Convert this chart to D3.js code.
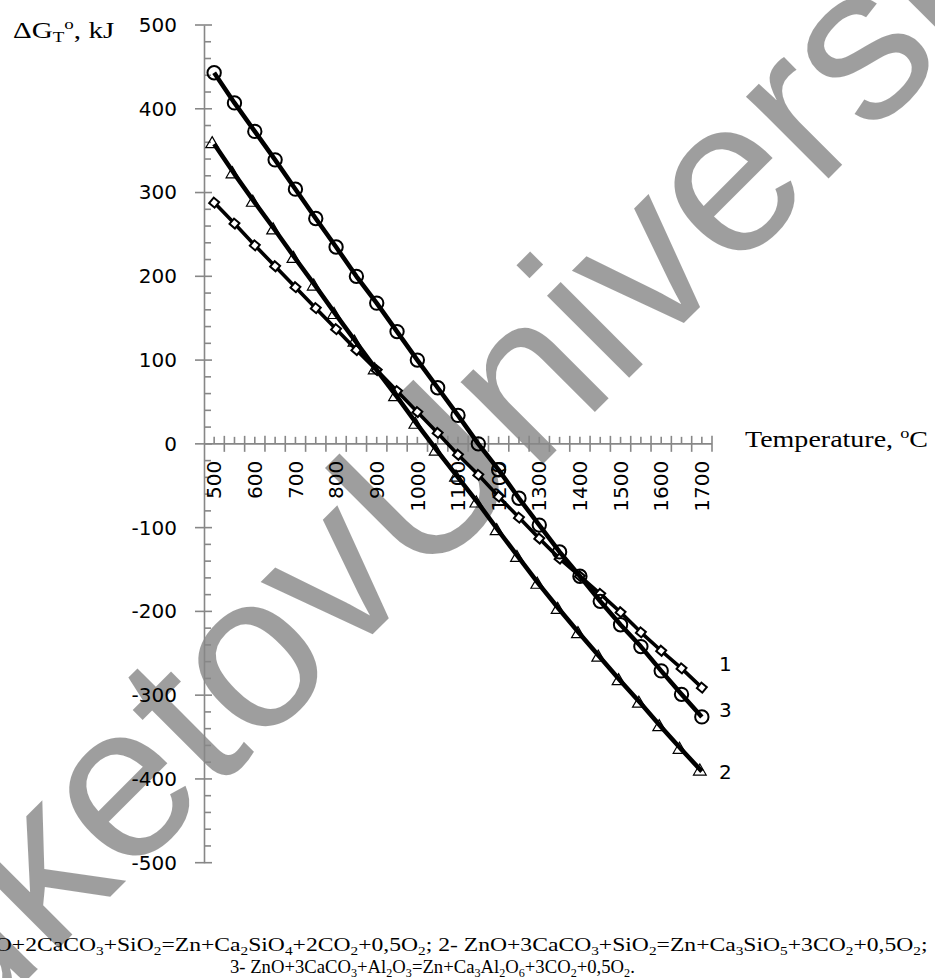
<!DOCTYPE html>
<html>
<head>
<meta charset="utf-8">
<script src="https://cdn.jsdelivr.net/npm/d3@7"></script>
<style>
  body { margin: 0; background: #fff; }
  svg { display: block; }
</style>
</head>
<body>
<svg id="chart" width="935" height="978"></svg>
<script>

//// DATA

// Temperature, categories every 50 oC
var temps = [500, 550, 600, 650, 700, 750, 800, 850, 900, 950, 1000, 1050, 1100,
             1150, 1200, 1250, 1300, 1350, 1400, 1450, 1500, 1550, 1600, 1650, 1700];

// Series 1: ZnO+2CaCO3+SiO2 (diamonds)
var series1 = [288, 263, 237, 212, 187, 162, 137, 112, 88, 63, 38, 13, -13,
               -37, -63, -88, -113, -137, -158, -179, -201, -225, -247, -268, -291];

// Series 2: ZnO+3CaCO3+SiO2 (triangles)
var series2 = [358, 322, 288, 255, 221, 188, 154, 121, 88, 56, 23, -9, -40,
               -71, -104, -136, -168, -198, -227, -255, -283, -310, -338, -365, -391];

// Series 3: ZnO+3CaCO3+Al2O3 (circles)
var series3 = [443, 407, 373, 339, 304, 269, 235, 200, 168, 134, 100, 67, 34,
               0, -31, -65, -97, -129, -158, -188, -216, -242, -271, -299, -326];

// Tick labels
var xTickLabels = [500, 600, 700, 800, 900, 1000, 1100, 1200, 1300, 1400, 1500, 1600, 1700];
var yTickLabels = [500, 400, 300, 200, 100, 0, -100, -200, -300, -400, -500];

// Curve numbers at the right end, with the value where they sit
var curveNames = ["1", "3", "2"];
var curveNameValues = [-263, -318, -392];

// Caption lines, "_" marks a subscript digit
var captionLines = [
  "1- ZnO+2CaCO_3+SiO_2=Zn+Ca_2SiO_4+2CO_2+0,5O_2; 2- ZnO+3CaCO_3+SiO_2=Zn+Ca_3SiO_5+3CO_2+0,5O_2;",
  "3- ZnO+3CaCO_3+Al_2O_3=Zn+Ca_3Al_2O_6+3CO_2+0,5O_2."
];


//// MAIN

var svg = d3.select("#chart");
var axisColor = "#878787";
var numFont = "'DejaVu Sans', sans-serif";
var serifFont = "'Liberation Serif', 'Times New Roman', serif";

// Category axis: each temperature sits in the middle of a 50 wide band
var x = d3.scaleLinear().domain([475, 1725]).range([204, 712]);
var y = d3.scaleLinear().domain([-500, 500]).range([862.7, 25]);

// watermark goes first, everything is drawn over it
drawWatermark();
drawAxes();
drawSeries();
drawTexts();


//// FUNCTIONS

///////////////////////////////////
// Grey watermark text across the page
function drawWatermark(){
///////////////////////////////////
    var g = svg.append("g")
        .attr("transform", "translate(420,587) rotate(-45)")
        .style("font-family", "'Liberation Sans', Arial, sans-serif")
        .style("font-size", "220px")
        .attr("fill", "#000")
        .attr("fill-opacity", 0.38);
    g.append("text").attr("text-anchor", "end").text("Buketov ");
    g.append("text").attr("text-anchor", "start").text("University");
}

///////////////////////////////////
// Axes with major and minor ticks
function drawAxes(){
///////////////////////////////////
    var x0 = x(475), y0 = y(0);

    // Y axis
    var yAxis = d3.axisLeft(y).tickValues(yTickLabels).tickSize(0).tickPadding(27)
        .tickFormat(function(d){ return String(d); });
    var gy = svg.append("g").attr("transform", "translate(" + x0 + ",0)").call(yAxis);
    gy.select(".domain").attr("stroke", axisColor).attr("stroke-width", 1.6);
    gy.selectAll("text").style("font-family", numFont).style("font-size", "20px").attr("fill", "#000");

    // y major ticks cross the axis, minor ones only on the right
    gy.selectAll(".major").data(yTickLabels).enter().append("line")
        .attr("x1", -9).attr("x2", 8)
        .attr("y1", function(d){ return y(d); }).attr("y2", function(d){ return y(d); })
        .attr("stroke", axisColor).attr("stroke-width", 1.6);
    gy.selectAll(".minor").data(d3.range(-480, 500, 20).filter(function(d){ return d % 100 != 0; }))
        .enter().append("line")
        .attr("x1", 0).attr("x2", 7)
        .attr("y1", function(d){ return y(d); }).attr("y2", function(d){ return y(d); })
        .attr("stroke", axisColor).attr("stroke-width", 1.6);

    // X axis along zero
    var gx = svg.append("g").attr("transform", "translate(0," + y0 + ")");
    gx.append("line").attr("x1", x0).attr("x2", x(1725))
        .attr("stroke", axisColor).attr("stroke-width", 1.6);
    // major ticks on the band boundaries
    gx.selectAll(".major").data(d3.range(525, 1750, 50)).enter().append("line")
        .attr("x1", function(d){ return x(d); }).attr("x2", function(d){ return x(d); })
        .attr("y1", -8).attr("y2", 8)
        .attr("stroke", axisColor).attr("stroke-width", 1.6);
    // minor ticks on the band centres
    gx.selectAll(".minor").data(temps).enter().append("line")
        .attr("x1", function(d){ return x(d); }).attr("x2", function(d){ return x(d); })
        .attr("y1", -7).attr("y2", 0)
        .attr("stroke", axisColor).attr("stroke-width", 1.6);

    // rotated labels below the axis
    gx.selectAll(".lbl").data(xTickLabels).enter().append("text")
        .attr("transform", function(d){ return "translate(" + x(d) + ",17) rotate(-90)"; })
        .attr("text-anchor", "end")
        .attr("dy", "0.36em")
        .style("font-family", numFont).style("font-size", "20px")
        .text(function(d){ return d; });
}

///////////////////////////////////
// Lines and markers of the three curves
function drawSeries(){
///////////////////////////////////
    var line = d3.line()
        .x(function(d, i){ return x(temps[i]); })
        .y(function(d){ return y(d); });

    var defs = [
        {vals: series1, w: 3.6, sym: d3.symbolSquare,   size: 50,  sw: 2,   fill: "#fff", dx: 0, rot: 40},
        {vals: series2, w: 4.5, sym: d3.symbolTriangle, size: 70,  sw: 1.2, fill: "none", dx: -2, rot: 0},
        {vals: series3, w: 4.5, sym: d3.symbolCircle,   size: 140, sw: 2,   fill: "none", dx: 0, rot: 0}
    ];

    defs.forEach(function(s){
        svg.append("path").datum(s.vals)
            .attr("d", line)
            .attr("fill", "none")
            .attr("stroke", "#000")
            .attr("stroke-width", s.w)
            .attr("stroke-linejoin", "round");

        svg.append("g").selectAll("path").data(s.vals).enter().append("path")
            .attr("d", d3.symbol().type(s.sym).size(s.size))
            .attr("transform", function(d, i){
                return "translate(" + (x(temps[i]) + s.dx) + "," + y(d) + ") rotate(" + s.rot + ")";
            })
            .attr("fill", s.fill)
            .attr("stroke", "#000")
            .attr("stroke-width", s.sw);
    });

    // curve numbers
    svg.selectAll(".cname").data(curveNames).enter().append("text")
        .attr("x", 719)
        .attr("y", function(d, i){ return y(curveNameValues[i]); })
        .attr("dy", "0.36em")
        .style("font-family", numFont).style("font-size", "20px")
        .text(function(d){ return d; });
}

///////////////////////////////////
// Fit a text element to a given width (horizontal scale only)
function fitWidth(sel, xAnchor, baseline, width){
///////////////////////////////////
    var w = sel.node().getComputedTextLength();
    var k = width / w;
    sel.attr("x", 0).attr("y", 0)
       .attr("transform", "translate(" + xAnchor + "," + baseline + ") scale(" + k + ",1)");
    return k;
}

///////////////////////////////////
// Writes a chemical formula line with subscripts
function formulaText(parent, str, size){
///////////////////////////////////
    var t = parent.append("text").style("font-family", serifFont).style("font-size", size + "px");
    var parts = str.split("_");
    t.append("tspan").text(parts[0]);
    for (var i = 1; i < parts.length; i++){
        t.append("tspan").attr("dy", size * 0.22).style("font-size", (size * 0.65) + "px").text(parts[i].charAt(0));
        t.append("tspan").attr("dy", -size * 0.22).text(parts[i].substring(1));
    }
    return t;
}

///////////////////////////////////
// Titles and caption
function drawTexts(){
///////////////////////////////////
    // Y title: delta G T o, kJ
    var yt = svg.append("text").style("font-family", serifFont).style("font-size", "23px");
    yt.append("tspan").text("\u0394G");
    yt.append("tspan").attr("dy", 4).style("font-size", "15px").text("T");
    yt.append("tspan").attr("dy", -13).style("font-size", "15px").text("o");
    yt.append("tspan").attr("dy", 9).text(", kJ");
    fitWidth(yt, 13, 38, 100);

    // X title
    var xt = svg.append("text").style("font-family", serifFont).style("font-size", "23px");
    xt.append("tspan").text("Temperature, ");
    xt.append("tspan").attr("dy", -9).style("font-size", "15px").text("o");
    xt.append("tspan").attr("dy", 9).text("C");
    fitWidth(xt, 745, 447, 183);

    // caption, first line runs off the left edge
    var c2 = formulaText(svg, captionLines[1], 19);
    fitWidth(c2, 230, 973, 405);
    var c1 = formulaText(svg, captionLines[0], 19);
    fitWidth(c1, -57, 951, 985);
}

</script>
</body>
</html>
